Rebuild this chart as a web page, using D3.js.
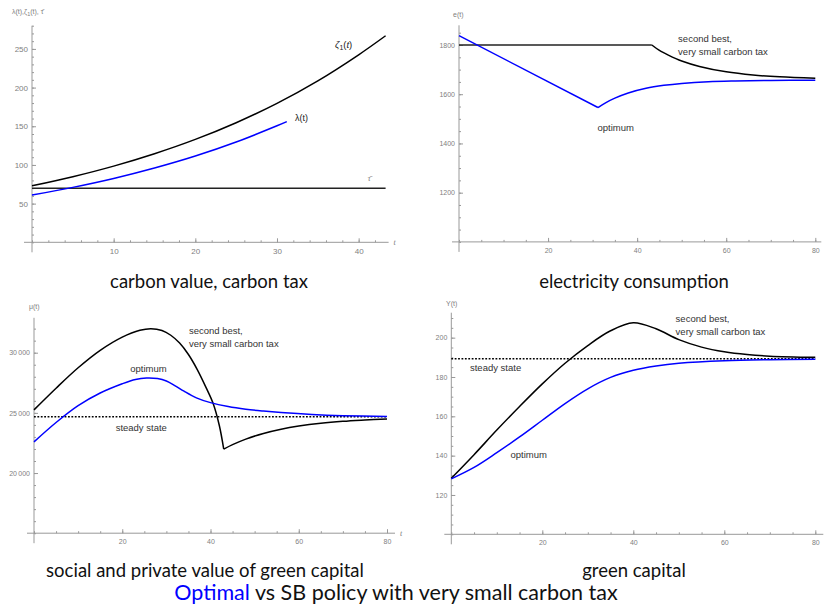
<!DOCTYPE html>
<html>
<head>
<meta charset="utf-8">
<script src="https://cdn.jsdelivr.net/npm/d3@7"></script>
<style>
  body { margin: 0; background: #fff; }
  .tick text { fill: #808080; font-family: "Liberation Sans", Arial, sans-serif; }
  .note { font-family: "Liberation Sans", Arial, sans-serif; font-size: 9.5px; fill: #333;
          paint-order: stroke; stroke: #fff; stroke-width: 2px; }
  .caption { font-family: Lato, sans-serif; fill: #111; text-anchor: middle; }
</style>
</head>
<body>
<div id="chart"></div>
<script>
const width = 825;
const height = 606;

// carbon value, carbon tax  (t, value)
const zetaOne = [[0, 73], [5, 84.8], [10, 98.5], [15, 114.5], [20, 133], [25, 154.6], [30, 179.6], [35, 208.7], [40, 242.4], [43.3, 267]];
const lambdaOpt = [[0, 61], [5, 71], [10, 82.5], [15, 96], [20, 111.5], [25, 129.6], [30, 150.6], [31.2, 156]];
const tauBar = [[0, 70], [43.3, 70]];

// electricity consumption
const eSecondFlat = [[0, 1800], [43.3, 1800]];
const eSecondDecay = [[43.3, 1800], [45, 1778], [47, 1759], [50, 1735], [54, 1713], [60, 1691], [66, 1678], [72, 1670.5], [80, 1665]];
const eOptFall = [[0, 1838], [31.2, 1546]];
const eOptRise = [[31.2, 1546], [33, 1566], [35, 1584], [38, 1605], [42, 1624], [46, 1636], [50, 1644], [56, 1651], [62, 1654], [70, 1656], [80, 1657]];

// social and private value of green capital
const muSecondRise = [[0, 25250], [5, 27050], [10, 28750], [15, 30200], [20, 31300], [24, 31870], [26.5, 32000], [29, 31850], [31, 31450], [33, 30800], [35, 29850], [37, 28600], [39, 27100], [40.6, 25780], [42, 23950], [43, 21985]];
const muSecondRecover = [[43, 21985], [45, 22356], [48, 22819], [52, 23293], [56, 23645], [60, 23905], [65, 24139], [70, 24299], [75, 24408], [80, 24500]];
const muOpt = [[0, 22590], [5, 24200], [10, 25600], [15, 26650], [20, 27420], [23, 27780], [25.5, 27900], [28, 27850], [30, 27650], [32, 27250], [34, 26800], [36.8, 26250], [40, 25850], [44, 25520], [48, 25300], [52, 25150], [56, 25030], [63, 24870], [70, 24770], [80, 24700]];
const muSteady = [[0, 24668], [80, 24668]];

// green capital
const ySecond = [[0, 128.5], [5, 140.5], [10, 153], [15, 165], [20, 176.5], [25, 187], [30, 196], [35, 203.5], [40, 207.6], [45, 204.5], [50, 199], [55, 195.2], [60, 192.8], [65, 191.4], [70, 190.6], [80, 190]];
const yOpt = [[0, 128.2], [5, 134], [10, 141.5], [15, 149.5], [20, 158], [25, 166.5], [30, 174], [35, 179.8], [40, 183.4], [45, 185.6], [50, 187], [60, 188.3], [70, 188.8], [80, 189]];
const ySteady = [[0, 189.3], [80, 189.3]];

const ticksX1 = [10, 20, 30, 40];
const ticksY1 = [50, 100, 150, 200, 250];
const ticksX = [20, 40, 60, 80];
const ticksY2 = [1200, 1400, 1600, 1800];
const ticksY3 = [20000, 25000, 30000];
const ticksY4 = [120, 140, 160, 180, 200];

const captions = ["carbon value, carbon tax", "electricity consumption",
                  "social and private value of green capital", "green capital"];

const svg = d3.select("#chart").append("svg")
    .attr("width", width)
    .attr("height", height);

const spaced = d3.formatLocale({decimal: ".", thousands: "\u2009", grouping: [3], currency: ["", ""]}).format(",");

const panels = [
  {
    xDom: [0, 43.3], xRange: [32, 385.6], yDom: [0, 280], yRange: [242.3, 25.7],
    xTicks: ticksX1, xMinor: d3.range(0, 43, 2), yTicks: ticksY1, yMinor: d3.range(0, 281, 10),
    tickSize: 8, xExt: [8, 3], tLabel: true,
    series: [
      {d: zetaOne, c: "#000"}, {d: tauBar, c: "#222"}, {d: lambdaOpt, c: "#0000ff"}
    ],
    caption: {x: 209, y: 288}
  },
  {
    xDom: [0, 80], xRange: [459, 815.3], yDom: [1000, 1880], yRange: [241.9, 25.3],
    xTicks: ticksX, xMinor: d3.range(0, 81, 5), yTicks: ticksY2, yMinor: d3.range(1000, 1880, 50),
    tickSize: 7, xExt: [7, 6], yLabel: "e(t)", yLabelPos: [453, 17],
    series: [
      {d: eSecondFlat, c: "#222"}, {d: eSecondDecay, c: "#000"},
      {d: eOptFall, c: "#0000ff"}, {d: eOptRise, c: "#0000ff"}
    ],
    notes: [
      {t: 49.2, v: 1812, s: "second best,"}, {t: 49.2, v: 1760, s: "very small carbon tax"},
      {t: 31.1, v: 1450, s: "optimum"}
    ],
    caption: {x: 634, y: 288}
  },
  {
    xDom: [0, 80], xRange: [34, 387], yDom: [15000, 32900], yRange: [533.2, 317.8],
    xTicks: ticksX, xMinor: d3.range(0, 81, 5), yTicks: ticksY3, yMinor: d3.range(15000, 32900, 1000),
    tickSize: 7, xExt: [7, 8], tLabel: true, yLabel: "\u03bc(t)", yLabelPos: [29, 309], fmt: spaced,
    series: [
      {d: muSteady, c: "#000", dash: true},
      {d: muSecondRise, c: "#000"}, {d: muSecondRecover, c: "#000"}, {d: muOpt, c: "#0000ff"}
    ],
    notes: [
      {t: 35.1, v: 31559, s: "second best,"}, {t: 35.1, v: 30436, s: "very small carbon tax"},
      {t: 21.8, v: 28358, s: "optimum"}, {t: 18.5, v: 23495, s: "steady state"}
    ],
    caption: {x: 205, y: 577}
  },
  {
    xDom: [0, 80], xRange: [451.3, 815.3], yDom: [100, 212.7], yRange: [534.3, 312.7],
    xTicks: ticksX, xMinor: d3.range(0, 81, 5), yTicks: ticksY4, yMinor: d3.range(100, 212, 5),
    tickSize: 7, xExt: [7, 8], yLabel: "Y(t)", yLabelPos: [446, 306],
    series: [
      {d: ySteady, c: "#000", dash: true}, {d: ySecond, c: "#000"}, {d: yOpt, c: "#0000ff"}
    ],
    notes: [
      {t: 49.3, v: 208.2, s: "second best,"}, {t: 49.3, v: 201.4, s: "very small carbon tax"},
      {t: 4.1, v: 183.1, s: "steady state"}, {t: 13.0, v: 138.6, s: "optimum"}
    ],
    caption: {x: 634, y: 577}
  }
];

panels.forEach((p, i) => {
  const x = d3.scaleLinear().domain(p.xDom).range(p.xRange);
  const y = d3.scaleLinear().domain(p.yDom).range(p.yRange);
  const g = svg.append("g");
  const x0 = x(0);
  const yBase = y(p.yDom[0]);

  // axis lines
  g.append("line")
      .attr("x1", x0 - p.xExt[0]).attr("x2", p.xRange[1] + p.xExt[1])
      .attr("y1", yBase).attr("y2", yBase)
      .attr("stroke", "#999");
  g.append("line")
      .attr("x1", x0).attr("x2", x0)
      .attr("y1", p.yRange[1]).attr("y2", yBase + 10)
      .attr("stroke", "#999");

  // minor ticks
  g.append("g")
      .attr("transform", `translate(0,${yBase})`)
      .call(d3.axisBottom(x).tickValues(p.xMinor).tickSize(-2).tickFormat(""))
      .call(a => a.select(".domain").remove())
      .selectAll("line").attr("stroke", "#999");
  g.append("g")
      .attr("transform", `translate(${x0},0)`)
      .call(d3.axisLeft(y).tickValues(p.yMinor).tickSize(-2).tickFormat(""))
      .call(a => a.select(".domain").remove())
      .selectAll("line").attr("stroke", "#999");

  // major ticks
  const xa = g.append("g")
      .attr("transform", `translate(0,${yBase})`)
      .call(d3.axisBottom(x).tickValues(p.xTicks).tickSize(-4).tickPadding(6))
      .call(a => a.select(".domain").remove());
  xa.selectAll("line").attr("stroke", "#999");
  xa.selectAll("text").style("font-size", p.tickSize + "px");

  const ya = g.append("g")
      .attr("transform", `translate(${x0},0)`)
      .call(d3.axisLeft(y).tickValues(p.yTicks).tickSize(-4).tickPadding(4)
        .tickFormat(p.fmt || d3.format("d")))
      .call(a => a.select(".domain").remove());
  ya.selectAll("line").attr("stroke", "#999");
  ya.selectAll("text").style("font-size", p.tickSize + "px");

  // curves
  const line = d3.line()
      .x(d => x(d[0]))
      .y(d => y(d[1]))
      .curve(d3.curveCatmullRom.alpha(0.5));

  p.series.forEach(s => {
    g.append("path")
        .attr("d", line(s.d))
        .attr("fill", "none")
        .attr("stroke", s.c)
        .attr("stroke-width", 1.5)
        .attr("stroke-dasharray", s.dash ? "1.8,1.6" : null);
  });

  (p.notes || []).forEach(n => {
    g.append("text")
        .attr("class", "note")
        .attr("x", x(n.t))
        .attr("y", y(n.v))
        .text(n.s);
  });

  if (p.yLabel) {
    g.append("text")
        .attr("x", p.yLabelPos[0]).attr("y", p.yLabelPos[1])
        .style("font-family", "Liberation Sans, Arial, sans-serif")
        .style("font-size", "7px")
        .attr("fill", "#808080")
        .text(p.yLabel);
  }

  if (p.tLabel) {
    g.append("text")
        .attr("x", p.xRange[1] + p.xExt[1] + 5).attr("y", yBase + 3)
        .style("font-family", "Liberation Serif, serif")
        .style("font-style", "italic")
        .style("font-size", "8px")
        .attr("fill", "#808080")
        .text("t");
  }

  svg.append("text")
      .attr("class", "caption")
      .attr("x", p.caption.x)
      .attr("y", p.caption.y)
      .style("font-size", "18.5px")
      .text(captions[i]);

  if (i === 0) {
    // labels of the first panel
    const lab = g.append("text")
        .attr("x", x(37.1)).attr("y", y(251))
        .style("font-family", "Liberation Sans, Arial, sans-serif")
        .style("font-size", "9.5px")
        .attr("fill", "#222");
    lab.append("tspan").style("font-style", "italic").text("\u03b6");
    lab.append("tspan").attr("dy", 2).style("font-size", "7px").text("1");
    lab.append("tspan").attr("dy", -2).text("(");
    lab.append("tspan").style("font-style", "italic").text("t");
    lab.append("tspan").text(")");

    g.append("text")
        .attr("x", x(32.2)).attr("y", y(156.7))
        .style("font-family", "Liberation Sans, Arial, sans-serif")
        .style("font-size", "9px")
        .attr("fill", "#222")
        .text("\u03bb(t)");

    g.append("text")
        .attr("x", x(41.1)).attr("y", y(79.5))
        .style("font-family", "Liberation Serif, serif")
        .style("font-style", "italic")
        .style("font-size", "8px")
        .attr("fill", "#808080")
        .text("\u03c4\u0304");

    const yl = g.append("text")
        .attr("x", 12).attr("y", 14)
        .style("font-family", "Liberation Sans, Arial, sans-serif")
        .style("font-size", "7px")
        .attr("fill", "#808080");
    yl.append("tspan").text("\u03bb(t),\u03b6");
    yl.append("tspan").attr("dy", 1.5).style("font-size", "5.5px").text("1");
    yl.append("tspan").attr("dy", -1.5).text("(t), \u03c4\u0304");
  }
});

// footer
const footer = svg.append("text")
    .attr("class", "caption")
    .attr("x", 396)
    .attr("y", 600)
    .style("font-size", "21.5px");
footer.append("tspan").attr("fill", "#0000ff").text("Optimal");
footer.append("tspan").text(" vs SB policy with very small carbon tax");
</script>
</body>
</html>
